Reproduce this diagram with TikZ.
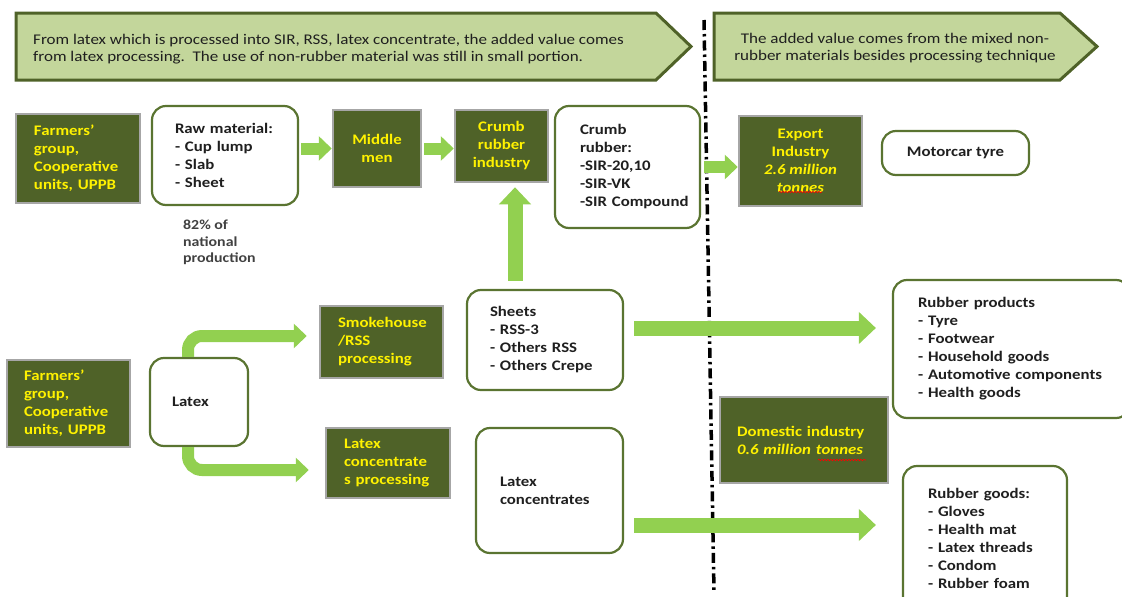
\documentclass[tikz,border=0pt]{standalone}
\usepackage{fontspec}
\setmainfont{Carlito}[FakeStretch=1.15]
\usetikzlibrary{arrows.meta,decorations.pathmorphing}
\definecolor{olivedk}{HTML}{4F6228}
\definecolor{bannerfill}{HTML}{C3D69B}
\definecolor{garrowc}{HTML}{92D050}
\definecolor{rborder}{HTML}{5A7431}
\definecolor{boxgray}{HTML}{A6A6A6}
\definecolor{txt}{HTML}{1F1F1F}
\newcommand\bxf{\fontsize{14.6}{18}\selectfont\bfseries}
\newcommand\bnf{\fontsize{14.8}{17.5}\selectfont}
\tikzset{
  dbox/.style={draw=boxgray, line width=2.5pt, fill=olivedk, text=yellow, font=\bxf, inner ysep=0pt},
  rbox/.style={draw=rborder, line width=2.2pt, rounded corners=14pt, fill=white, text=txt, font=\bxf, inner ysep=0pt},
  garrowsm/.style={draw=garrowc, line width=12pt, -{Triangle[length=13pt,width=24pt]}},
  garrowbig/.style={draw=garrowc, line width=15pt, -{Triangle[length=17pt,width=31pt]}},
  squig/.style={draw=red, line width=0.6pt, decorate, decoration={snake, amplitude=0.8pt, segment length=3pt}},
}
\begin{document}
\begin{tikzpicture}[x=1pt,y=-1pt]
\clip (0,0) rectangle (1122,597);
\useasboundingbox (0,0) rectangle (1122,597);
% banners
\path[draw=olivedk, line width=3pt, fill=bannerfill] (16,13) -- (656,13) -- (691,46.5) -- (656,80) -- (16,80) -- cycle;
\node[anchor=west, align=left, font=\bnf, text=txt, inner sep=0pt] (b1) at (33,49) {From latex which is processed into SIR, RSS, latex concentrate, the added value comes\\from latex processing.\ \ The use of non-rubber material was still in small portion.};
\path[draw=olivedk, line width=3pt, fill=bannerfill] (714,13) -- (1060,13) -- (1097,46.5) -- (1060,80) -- (714,80) -- cycle;
\node[align=center, font=\bnf, text=txt, inner sep=0pt] (b2) at (895,48) {The added value comes from the mixed non-\\rubber materials besides processing technique};
% divider
\draw[line width=3.5pt, dash pattern=on 10pt off 4pt on 2.5pt off 4pt] (704,20) -- (714,592);
% top row
\node[dbox, align=left, minimum width=124pt, minimum height=89pt, text width=88pt, inner xsep=18pt] (farm1) at (78,158.5) {Farmers’\\group,\\Cooperative\\units, UPPB};
\node[rbox, align=left, minimum height=99pt, text width=100pt, inner xsep=23pt] (raw) at (225,155.5) {Raw material:\\- Cup lump\\- Slab\\- Sheet};
\node[anchor=west, align=left, font=\fontsize{13.8}{16.5}\selectfont\bfseries, text=txt!85, inner sep=0pt] (note) at (183,242.5) {82\% of\\national\\production};
\node[dbox, align=center, minimum width=88pt, minimum height=77pt, inner xsep=0pt] (middle) at (377,148.5) {Middle\\men};
\node[dbox, align=center, minimum width=93pt, minimum height=72pt, inner xsep=0pt] (crumb) at (501.5,146) {Crumb\\rubber\\industry};
\node[rbox, align=left, minimum height=122pt, text width=95pt, inner xsep=25pt] (crumblist) at (627.5,167) {Crumb\\rubber:\\-SIR-20,10\\-SIR-VK\\\mbox{-SIR Compound}};
\node[dbox, align=center, minimum width=123pt, minimum height=90pt, inner xsep=0pt] (export) at (800.5,161) {Export\\Industry\\\textit{2.6 million}\\\textit{tonnes}};
\node[rbox, align=center, minimum width=147pt, minimum height=44pt, inner xsep=0pt] (motor) at (955.5,153) {Motorcar tyre};
% bottom part
\node[dbox, align=left, minimum height=87pt, text width=89pt, inner xsep=17pt] (farm2) at (68.5,403.5) {Farmers’\\group,\\Cooperative\\units, UPPB};
\node[rbox, align=left, minimum height=88pt, text width=54pt, inner xsep=22pt] (latex) at (199,402) {Latex};
\node[dbox, align=left, minimum height=72pt, text width=87pt, inner xsep=18pt] (smoke) at (381.5,342) {Smokehouse\\/RSS\\processing};
\node[dbox, align=left, minimum height=70pt, text width=88pt, inner xsep=18pt] (lconc) at (388,463) {Latex\\concentrate\\s processing};
\node[rbox, align=left, minimum height=100pt, text width=110pt, inner xsep=23pt] (sheets) at (545,340) {Sheets\\- RSS-3\\- Others RSS\\- Others Crepe};
\node[rbox, align=left, minimum height=125pt, text width=99pt, inner xsep=24pt] (lconcs) at (549.5,490.5) {Latex\\concentrates};
\node[dbox, align=left, minimum height=86pt, text width=134pt, inner xsep=17pt] (domestic) at (804,440) {Domestic industry\\\textit{0.6 million tonnes}};
\node[rbox, align=left, minimum height=138pt, text width=187pt, inner xsep=25pt] (rprod) at (1011.5,349) {Rubber products\\- Tyre\\- Footwear\\- Household goods\\- Automotive components\\- Health goods};
\node[rbox, align=left, minimum height=144pt, text width=114pt, inner xsep=25pt] (rgoods) at (985,538) {Rubber goods:\\- Gloves\\- Health mat\\- Latex threads\\- Condom\\- Rubber foam};
% spell-check squiggles
\draw[squig] (779,192) -- (822,192);
\draw[squig] (818,460) -- (866,460);
% connectors
\coordinate (vx) at (515,0);
\coordinate (lx) at (188,0);
\draw[garrowsm, shorten <=2pt] (raw.east |- middle.west) -- (middle.west);
\draw[garrowsm, shorten <=2pt] (middle.east) -- (middle.east -| crumb.west);
\draw[garrowsm, shorten <=3pt] (crumblist.east) -- (crumblist.east -| export.west);
\draw[garrowbig, shorten <=8pt, shorten >=4pt] (sheets.north -| vx) -- (crumb.south -| vx);
\path ([yshift=12pt]sheets.east) coordinate (s1);
\path ([yshift=-34.5pt]lconcs.east) coordinate (s2);
\draw[garrowbig, shorten <=10pt, shorten >=16pt] (s1) -- (s1 -| rprod.west);
\draw[garrowbig, shorten <=10pt, shorten >=26pt] (s2) -- (s2 -| rgoods.west);
\draw[garrowsm, rounded corners=14pt, shorten >=12pt] (latex.north -| lx) |- ([yshift=6pt]smoke.west);
\draw[garrowsm, rounded corners=14pt, shorten >=16pt] (latex.south -| lx) |- ([yshift=-7pt]lconc.west);
\end{tikzpicture}
\end{document}
